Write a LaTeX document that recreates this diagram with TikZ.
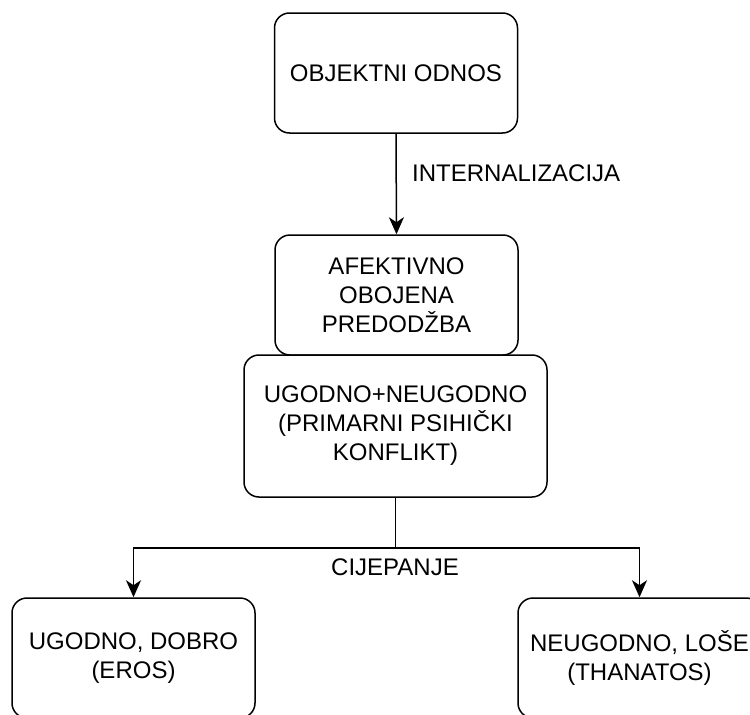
\documentclass[tikz,border=0pt]{standalone}
\usepackage{fontspec}
\setmainfont{Liberation Sans}
\usetikzlibrary{arrows.meta}
\begin{document}
\begin{tikzpicture}[x=1pt,y=1pt,
  box/.style={draw=black, line width=1.5pt, rounded corners=15pt, align=center,
    inner sep=0pt, minimum width=243pt, minimum height=120pt,
    font=\fontsize{24}{29}\selectfont},
  lbl/.style={font=\fontsize{24}{29}\selectfont, inner sep=0pt},
  conn/.style={line width=1.5pt, draw=black},
  arr/.style={conn, -{Stealth[length=17pt, width=15pt, inset=5pt]}}]
\useasboundingbox (0,0) rectangle (750,-715);
\node[box] (b1) at (396,-73) {OBJEKTNI ODNOS};
\node[box] (b2) at (396.5,-295) {AFEKTIVNO\\OBOJENA\\PREDODŽBA};
\node[box, minimum width=303pt, minimum height=142pt] (b3) at (395.5,-426) {UGODNO+NEUGODNO\\(PRIMARNI PSIHIČKI\\KONFLIKT)};
\node[box] (b4) at (133.5,-658) {UGODNO, DOBRO\\(EROS)};
\node[box] (b5) at (639.5,-658) {NEUGODNO, LOŠE\\(THANATOS)};
\draw[arr] (b1.south) -- (b2.north);
\node[lbl, anchor=west] (l1) at (412,-173) {INTERNALIZACIJA};
\coordinate (j) at (b3.south |- 0,-548);
\draw[conn] (b3.south) -- (j);
\draw[arr] (j) -| (b4.north);
\draw[arr] (j) -| (b5.north);
\node[lbl] (l2) at (395,-567) {CIJEPANJE};
\end{tikzpicture}
\end{document}
